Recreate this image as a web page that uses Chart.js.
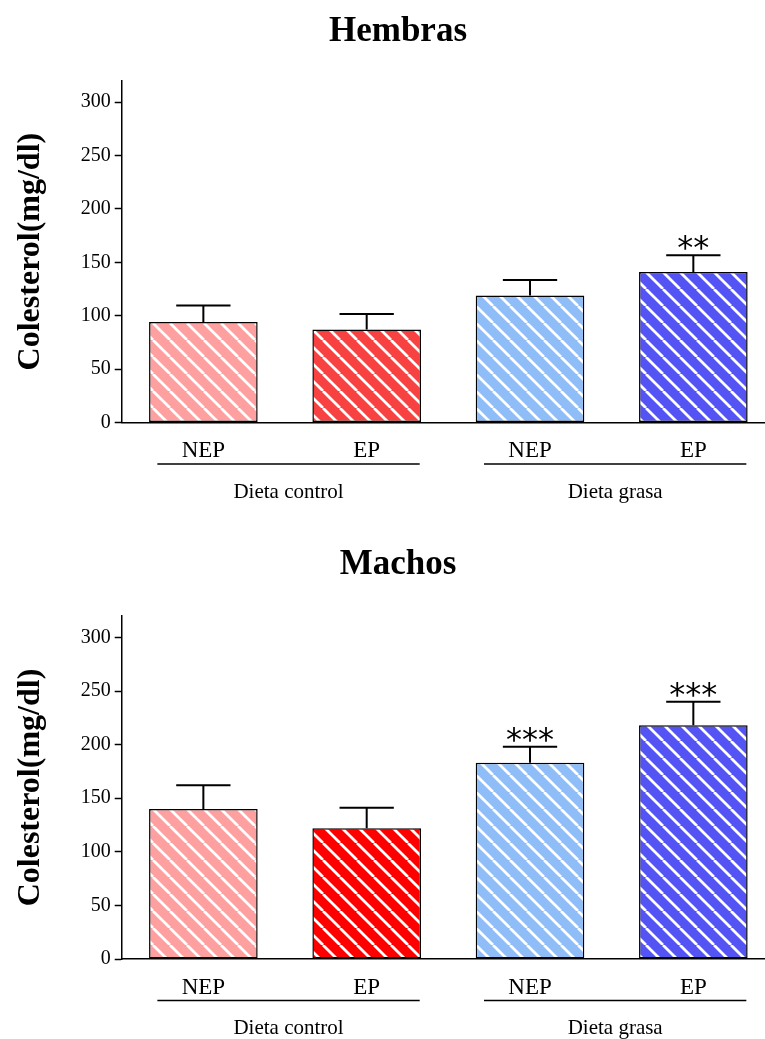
<!DOCTYPE html>
<html>
<head>
<meta charset="utf-8">
<script src="https://cdn.jsdelivr.net/npm/chart.js@4/dist/chart.umd.min.js"></script>
<style>
    html, body { margin: 0; padding: 0; background: #fff; overflow: hidden; width: 765px; height: 1039px; }
    canvas { position: absolute; left: 0; }
</style>
</head>
<body>
<canvas id="hembras" width="775" height="520" style="top:0"></canvas>
<canvas id="machos" width="775" height="519" style="top:520px"></canvas>
<script>
const categories = ['NEP', 'EP', 'NEP', 'EP'];
const groups = ['Dieta control', 'Dieta grasa'];
const yTicks = [0, 50, 100, 150, 200, 250, 300];

const hembrasMeans = [94, 87, 119, 141];
const hembrasErr = [15.5, 14.5, 14.5, 15.5];
const hembrasStars = ['', '', '', '**'];

const machosMeans = [140, 122, 183, 218];
const machosErr = [22, 19, 15, 22];
const machosStars = ['', '', '***', '***'];

const serif = 'Liberation Serif';

// diagonal white stripes over a flat colour
function hatch(color) {
    const size = 17;
    const tile = document.createElement('canvas');
    tile.width = size;
    tile.height = size;
    const c = tile.getContext('2d');
    c.fillStyle = color;
    c.fillRect(0, 0, size, size);
    c.strokeStyle = '#fff';
    c.lineWidth = 2.7;
    for (let k = -1; k <= 1; k++) {
        c.beginPath();
        c.moveTo(k * size, 0);
        c.lineTo(k * size + size, size);
        c.stroke();
    }
    return c.createPattern(tile, 'repeat');
}

// bold heading above the plot
const heading = {
    id: 'heading',
    afterDraw(chart, args, opts) {
        const ctx = chart.ctx;
        ctx.save();
        ctx.fillStyle = '#000';
        ctx.font = 'bold 35px "' + serif + '"';
        ctx.textAlign = 'center';
        ctx.textBaseline = 'alphabetic';
        ctx.fillText(opts.text, opts.x, opts.y);
        ctx.restore();
    }
};

// error bar caps + significance stars
const errorBars = {
    id: 'errorBars',
    afterDatasetsDraw(chart, args, opts) {
        const ctx = chart.ctx;
        const y = chart.scales.y;
        const bars = chart.getDatasetMeta(0).data;
        ctx.save();
        ctx.strokeStyle = '#000';
        ctx.lineWidth = 2;
        bars.forEach((bar, i) => {
            const top = y.getPixelForValue(opts.means[i]);
            const cap = y.getPixelForValue(opts.means[i] + opts.err[i]);
            const half = bar.width / 4;
            ctx.beginPath();
            ctx.moveTo(bar.x, top);
            ctx.lineTo(bar.x, cap);
            ctx.moveTo(bar.x - half, cap);
            ctx.lineTo(bar.x + half, cap);
            ctx.stroke();
            if (opts.stars[i]) {
                ctx.fillStyle = '#000';
                ctx.font = '32px "DejaVu Sans"';
                ctx.textAlign = 'center';
                ctx.textBaseline = 'alphabetic';
                ctx.fillText(opts.stars[i], bar.x, cap + 3);
            }
        });
        ctx.restore();
    }
};

// underline + group name under each pair of bars
const groupLabels = {
    id: 'groupLabels',
    afterDraw(chart) {
        const ctx = chart.ctx;
        const x = chart.scales.x;
        ctx.save();
        ctx.strokeStyle = '#000';
        ctx.lineWidth = 1.5;
        ctx.fillStyle = '#000';
        ctx.font = '21px "' + serif + '"';
        ctx.textAlign = 'center';
        ctx.textBaseline = 'middle';
        groups.forEach((name, g) => {
            const x0 = x.getPixelForValue(2 * g) - 46;
            const x1 = x.getPixelForValue(2 * g + 1) + 53;
            const ly = x.top + 41.5;
            ctx.beginPath();
            ctx.moveTo(x0, ly);
            ctx.lineTo(x1, ly);
            ctx.stroke();
            ctx.fillText(name, (x0 + x1) / 2, x.top + 69.5);
        });
        ctx.restore();
    }
};

function makeChart(id, title, means, err, stars, colors, topPad, titleY, xHeight) {
    const ctx = document.getElementById(id).getContext('2d');
    return new Chart(ctx, {
        type: 'bar',
        data: {
            labels: categories,
            datasets: [{
                data: means,
                backgroundColor: colors.map(hatch),
                borderColor: '#000',
                borderWidth: 1.5,
                borderSkipped: false,
                barPercentage: 0.665,
                categoryPercentage: 1,
            }]
        },
        options: {
            responsive: false,
            animation: false,
            devicePixelRatio: 1,
            layout: { padding: { top: topPad, left: 0, right: 0, bottom: 0 } },
            plugins: {
                legend: { display: false },
                tooltip: { enabled: false },
                title: { display: false },
                heading: { text: title, x: 398, y: titleY },
                errorBars: { means: means, err: err, stars: stars },
            },
            scales: {
                x: {
                    afterFit: (s) => { s.height = xHeight; },
                    grid: { display: true, drawOnChartArea: false, drawTicks: false },
                    border: { display: true, color: '#000', width: 1.5 },
                    ticks: { color: '#000', font: { family: serif, size: 23 }, padding: 15 },
                },
                y: {
                    min: 0,
                    max: 320,
                    afterFit: (s) => { s.width = 121.7; },
                    afterBuildTicks: (s) => { s.ticks = yTicks.map(v => ({ value: v })); },
                    grid: { display: true, drawOnChartArea: false, drawTicks: true, tickLength: 7, color: '#000', tickWidth: 1.5 },
                    border: { display: true, color: '#000', width: 1.5 },
                    ticks: { color: '#000', font: { family: serif, size: 20 }, padding: 4 },
                    title: {
                        display: true,
                        text: 'Colesterol(mg/dl)',
                        color: '#000',
                        font: { family: serif, size: 32, weight: 'bold' },
                        padding: { top: 12, bottom: 0 },
                    },
                },
            },
        },
        plugins: [heading, errorBars, groupLabels],
    });
}

makeChart('hembras', 'Hembras', hembrasMeans, hembrasErr, hembrasStars,
    ['#FFA0A0', '#F84141', '#8EBDF7', '#5454F4'], 80.7, 41, 97.5);
makeChart('machos', 'Machos', machosMeans, machosErr, machosStars,
    ['#FFA0A0', '#FF0000', '#8EBDF7', '#5454F4'], 96, 54, 80);
</script>
</body>
</html>
